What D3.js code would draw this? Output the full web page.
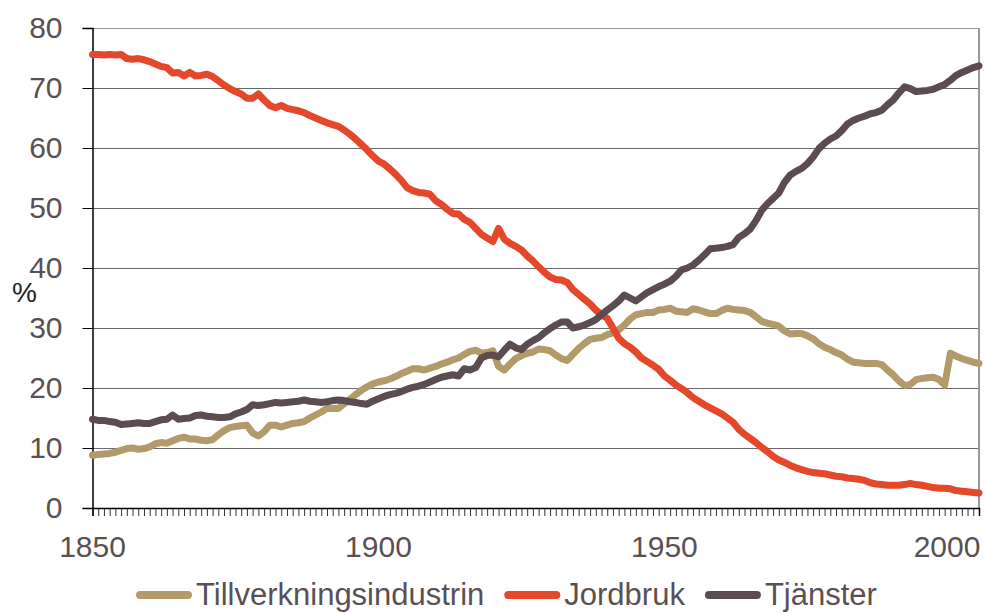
<!DOCTYPE html>
<html lang="sv">
<head>
<meta charset="UTF-8">
<title>Sysselsättning per sektor</title>
<script src="https://d3js.org/d3.v7.min.js"></script>
<style>
  body { margin: 0; background: #fff; }
  text { font-family: "Liberation Sans", Arial, sans-serif; }
</style>
</head>
<body>
<script>
const years = d3.range(1850, 2006);

const tillverkning = [
  8.8, 8.9, 9.0, 9.1, 9.3, 9.6, 9.9, 10.0, 9.8, 9.9,
  10.2, 10.7, 10.9, 10.8, 11.2, 11.6, 11.8, 11.5, 11.5, 11.3,
  11.2, 11.4, 12.2, 12.9, 13.4, 13.6, 13.7, 13.8, 12.5, 12.0,
  12.7, 13.8, 13.8, 13.5, 13.8, 14.1, 14.2, 14.4, 15.0, 15.5,
  16.0, 16.6, 16.6, 16.6, 17.4, 18.1, 18.9, 19.6, 20.2, 20.7,
  21.0, 21.2, 21.5, 21.9, 22.4, 22.8, 23.2, 23.2, 23.0, 23.3,
  23.6, 24.0, 24.3, 24.7, 25.0, 25.6, 26.1, 26.3, 25.8, 25.9,
  26.2, 23.6, 23.0, 24.0, 24.9, 25.4, 25.8, 26.0, 26.5, 26.4,
  26.2, 25.5, 24.9, 24.6, 25.6, 26.6, 27.4, 28.1, 28.3, 28.4,
  28.9, 29.2, 29.7, 30.5, 31.5, 32.2, 32.4, 32.6, 32.6, 33.0,
  33.1, 33.3, 32.8, 32.7, 32.6, 33.2, 33.0, 32.7, 32.4, 32.4,
  32.9, 33.3, 33.1, 33.0, 32.9, 32.6, 31.9, 31.1, 30.8, 30.6,
  30.3, 29.5, 29.0, 29.1, 29.1, 28.7, 28.2, 27.4, 26.8, 26.4,
  25.9, 25.5, 24.8, 24.3, 24.2, 24.1, 24.1, 24.1, 23.9, 23.0,
  22.2, 21.2, 20.4, 20.6, 21.4, 21.6, 21.7, 21.8, 21.4, 20.5,
  25.8, 25.3, 24.9, 24.6, 24.3, 24.1
];

const jordbruk = [
  75.6, 75.6, 75.5, 75.6, 75.5, 75.6, 74.9, 74.8, 74.9, 74.7,
  74.4, 74.0, 73.6, 73.4, 72.5, 72.6, 72.0, 72.6, 72.0, 72.1,
  72.3, 71.9, 71.2, 70.5, 69.9, 69.4, 69.0, 68.3, 68.3, 69.0,
  68.0, 67.1, 66.7, 67.1, 66.6, 66.4, 66.2, 65.9, 65.4, 65.0,
  64.6, 64.2, 63.9, 63.6, 63.0, 62.3, 61.5, 60.6, 59.7, 58.7,
  57.8, 57.3, 56.5, 55.6, 54.6, 53.4, 52.9, 52.6, 52.5, 52.3,
  51.2, 50.6, 49.8, 49.1, 49.0, 48.1, 47.6, 46.6, 45.6, 45.0,
  44.4, 46.6, 44.8, 44.1, 43.6, 43.0, 42.0, 41.2, 40.2, 39.3,
  38.5, 38.1, 38.0, 37.6, 36.4, 35.6, 34.8, 34.0, 33.0, 32.2,
  31.6, 30.0, 28.3, 27.4, 26.8, 26.0, 25.0, 24.4, 23.8, 23.1,
  22.0, 21.3, 20.5, 19.9, 19.2, 18.4, 17.8, 17.2, 16.7, 16.2,
  15.7, 15.0, 14.3, 13.1, 12.3, 11.6, 10.9, 10.1, 9.4, 8.6,
  8.0, 7.6, 7.1, 6.7, 6.4, 6.1, 5.9, 5.8, 5.7, 5.5,
  5.3, 5.2, 5.0, 4.9, 4.8, 4.6, 4.2, 4.0, 3.9, 3.8,
  3.8, 3.8, 3.9, 4.1, 3.9, 3.8, 3.6, 3.4, 3.3, 3.3,
  3.2, 2.9, 2.8, 2.7, 2.6, 2.5
];

const tjanster = [
  14.8, 14.6, 14.6, 14.4, 14.3, 13.9, 14.0, 14.1, 14.2, 14.1,
  14.1, 14.4, 14.7, 14.8, 15.5, 14.8, 14.9, 15.0, 15.4, 15.5,
  15.3, 15.2, 15.1, 15.1, 15.2, 15.7, 16.0, 16.4, 17.2, 17.1,
  17.2, 17.4, 17.6, 17.5, 17.6, 17.7, 17.8, 18.0, 17.8, 17.7,
  17.6, 17.7, 17.9, 18.0, 17.9, 17.7, 17.6, 17.4, 17.3, 17.8,
  18.2, 18.6, 18.9, 19.1, 19.4, 19.8, 20.1, 20.3, 20.6, 21.0,
  21.4, 21.8, 22.0, 22.2, 22.0, 23.2, 23.0, 23.4, 25.0, 25.4,
  25.5, 25.2, 26.3, 27.3, 26.7, 26.4, 27.3, 27.9, 28.4, 29.2,
  29.9, 30.5, 31.0, 31.0, 30.0, 30.2, 30.5, 30.9, 31.4, 32.2,
  33.0, 33.7, 34.5, 35.5, 35.0, 34.5, 35.2, 35.9, 36.4, 36.9,
  37.3, 37.8, 38.6, 39.7, 40.0, 40.5, 41.3, 42.2, 43.2, 43.3,
  43.4, 43.6, 43.9, 45.1, 45.7, 46.5, 47.9, 49.6, 50.7, 51.6,
  52.5, 54.3, 55.5, 56.1, 56.6, 57.4, 58.5, 59.9, 60.8, 61.5,
  62.0, 62.9, 64.0, 64.6, 65.0, 65.3, 65.7, 65.9, 66.3, 67.2,
  68.0, 69.2, 70.2, 69.9, 69.4, 69.5, 69.6, 69.8, 70.2, 70.6,
  71.3, 72.1, 72.6, 73.0, 73.4, 73.7
];

const seriesNames = ["Tillverkningsindustrin", "Jordbruk", "Tjänster"];
const seriesColors = ["#b39a6b", "#e5472b", "#5b4c50"];
const yTicks = [0, 10, 20, 30, 40, 50, 60, 70, 80];
const xLabels = [1850, 1900, 1950, 2000];

const width = 985, height = 613;
const margin = { top: 28, right: 6, bottom: 105, left: 92.5 };
const textColor = "#5a5053";

const svg = d3.select("body").append("svg")
  .attr("width", width)
  .attr("height", height);

const x = d3.scaleLinear()
  .domain([1850, 2005])
  .range([margin.left, width - margin.right]);

const y = d3.scaleLinear()
  .domain([0, 80])
  .range([height - margin.bottom, margin.top]);

// gridlines
svg.append("g")
  .selectAll("line")
  .data(yTicks.filter(d => d > 0))
  .enter().append("line")
  .attr("x1", x.range()[0])
  .attr("x2", x.range()[1])
  .attr("y1", d => Math.round(y(d)) + 0.5)
  .attr("y2", d => Math.round(y(d)) + 0.5)
  .attr("stroke", d => d === 80 ? "#999" : "#6a6a6a")
  .attr("stroke-width", 1);

// right border of plot area
svg.append("line")
  .attr("x1", x.range()[1]).attr("x2", x.range()[1])
  .attr("y1", y(80)).attr("y2", y(0))
  .attr("stroke", "#999")
  .attr("stroke-width", 2);

// y axis
const yAxis = svg.append("g")
  .attr("transform", `translate(${margin.left},0)`)
  .call(d3.axisLeft(y).tickValues(yTicks).tickSize(10).tickPadding(20));
yAxis.select(".domain").attr("stroke", "#000").attr("stroke-width", 1.5);
yAxis.selectAll(".tick line").attr("stroke", "#000");
yAxis.selectAll(".tick text")
  .attr("fill", textColor)
  .style("font-size", "30px");

// x axis: a tick for every year, labels every 50 years
const xAxis = svg.append("g")
  .attr("transform", `translate(0,${y(0)})`)
  .call(d3.axisBottom(x).tickValues(years).tickSize(8).tickFormat(""));
xAxis.select(".domain").attr("stroke", "#000").attr("stroke-width", 1.5);
xAxis.selectAll(".tick line").attr("stroke", "#000").attr("stroke-width", 0.8);

svg.append("g")
  .selectAll("text")
  .data(xLabels)
  .enter().append("text")
  .attr("x", d => Math.min(x(d), width - 38))
  .attr("y", y(0) + 49)
  .attr("text-anchor", "middle")
  .attr("fill", textColor)
  .style("font-size", "30px")
  .text(d => d);

// unit label
svg.append("text")
  .attr("x", 12)
  .attr("y", 302)
  .attr("fill", "#222")
  .style("font-size", "28px")
  .text("%");

// lines
const line = d3.line()
  .x((d, i) => x(years[i]))
  .y(d => y(d));

const allSeries = [tillverkning, jordbruk, tjanster];

svg.append("g")
  .selectAll("path")
  .data(allSeries)
  .enter().append("path")
  .attr("d", d => line(d))
  .attr("fill", "none")
  .attr("stroke", (d, i) => seriesColors[i])
  .attr("stroke-width", 7)
  .attr("stroke-linejoin", "round")
  .attr("stroke-linecap", "round");

// legend
const legend = svg.append("g").attr("transform", "translate(136,595)");
let lx = 0;
seriesNames.forEach((name, i) => {
  legend.append("line")
    .attr("x1", lx + 4).attr("x2", lx + 52)
    .attr("y1", 0).attr("y2", 0)
    .attr("stroke", seriesColors[i])
    .attr("stroke-width", 8)
    .attr("stroke-linecap", "round");
  const t = legend.append("text")
    .attr("x", lx + 60)
    .attr("y", 10)
    .attr("fill", textColor)
    .style("font-size", "31px")
    .text(name);
  lx += 60 + t.node().getComputedTextLength() + 20;
});
</script>
</body>
</html>
